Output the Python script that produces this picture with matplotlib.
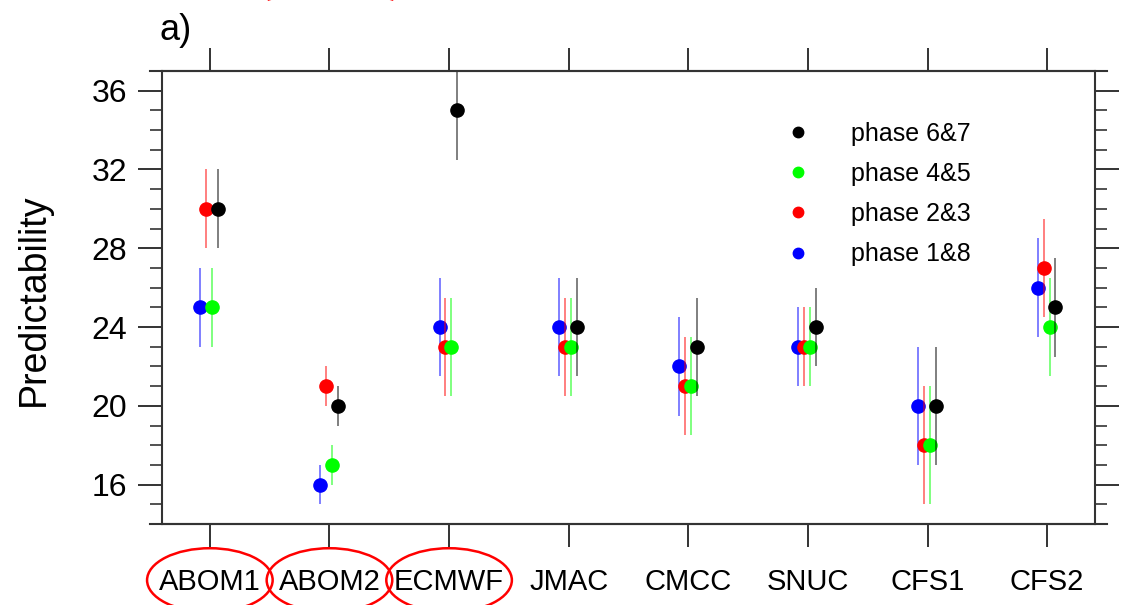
import matplotlib
matplotlib.use("Agg")
import matplotlib.pyplot as plt
import matplotlib.transforms as mtransforms
from matplotlib.patches import Ellipse, Arc
from matplotlib.ticker import MultipleLocator
from matplotlib.lines import Line2D

plt.rcParams['font.family'] = ['Liberation Sans', 'DejaVu Sans']

models = ['ABOM1', 'ABOM2', 'ECMWF', 'JMAC', 'CMCC', 'SNUC', 'CFS1', 'CFS2']

# predictability (days) and spread for each MJO phase group
p18 = [25, 16, 24, 24, 22, 23, 20, 26]
e18 = [2, 1, 2.5, 2.5, 2.5, 2, 3, 2.5]
p23 = [30, 21, 23, 23, 21, 23, 18, 27]
e23 = [2, 1, 2.5, 2.5, 2.5, 2, 3, 2.5]
p45 = [25, 17, 23, 23, 21, 23, 18, 24]
e45 = [2, 1, 2.5, 2.5, 2.5, 2, 3, 2.5]
p67 = [30, 20, 35, 24, 23, 24, 20, 25]
e67 = [2, 1, 2.5, 2.5, 2.5, 2, 3, 2.5]

series = [
    ('phase 1&8', p18, e18, '#0000ff', -0.08),
    ('phase 2&3', p23, e23, '#ff0000', -0.03),
    ('phase 4&5', p45, e45, '#00ff00', 0.02),
    ('phase 6&7', p67, e67, '#000000', 0.07),
]

fig = plt.figure(figsize=(11.22, 6.05), dpi=100)
ax = fig.add_axes([0.1444, 0.1339, 0.8315, 0.7487])

x = list(range(len(models)))
colors = {}
for label, vals, errs, col, off in series:
    xs = [i + off for i in x]
    ax.errorbar(xs, vals, yerr=errs, fmt='none', ecolor=col, elinewidth=1.4,
                alpha=0.5, capsize=0)
    ax.plot(xs, vals, 'o', color=col, markersize=9.5, linestyle='none')
    colors[label] = col

order = ['phase 6&7', 'phase 4&5', 'phase 2&3', 'phase 1&8']
leg_h = [Line2D([], [], marker='o', color=colors[l], linestyle='none',
                markersize=7.5) for l in order]
ax.legend(leg_h, order, loc='upper left', bbox_to_anchor=(0.631, 0.938),
          frameon=False, fontsize=18, handlelength=2.0, handletextpad=1.12,
          labelspacing=0.65)

ax.set_xlim(-0.4, 7.4)
ax.set_ylim(14, 37)
ax.set_xticks(x)
ax.set_xticklabels(models, fontsize=21)
ax.yaxis.set_minor_locator(MultipleLocator(1))
ax.set_yticks([16, 20, 24, 28, 32, 36])
ax.tick_params(axis='y', which='major', labelsize=23, length=17, width=1.4,
               direction='out', left=True, right=True, pad=8, color='#333333')
ax.tick_params(axis='y', which='minor', length=8.5, width=1.2, direction='out',
               left=True, right=True, color='#333333')
ax.tick_params(axis='x', which='major', length=16.5, width=1.4, direction='out',
               top=True, bottom=True, pad=15, color='#333333')
for s in ax.spines.values():
    s.set_linewidth(1.5)
    s.set_color('#333333')

# horizontal frame lines run a little past the box
for yy in (0, 1):
    ax.add_line(Line2D([-0.013, 1.013], [yy, yy], transform=ax.transAxes,
                       color='#333333', linewidth=1.5, clip_on=False))

ax.set_ylabel('Predictability', fontsize=27)
ax.yaxis.set_label_coords(-0.118, 0.494)

fig.text(0.142, 0.95, 'a)', fontsize=26, ha='left', va='center')

# red ellipses around the first three model labels
trans = mtransforms.blended_transform_factory(ax.transData, ax.transAxes)
for i in range(3):
    ax.add_patch(Ellipse((i, -0.124), 1.05, 0.141, transform=trans, fill=False,
                         edgecolor='red', linewidth=1.8, clip_on=False))

# red bracket tails cut off at the top edge
pt = fig.dpi_scale_trans
fig.patches.append(Arc((2.81, 6.35), 0.30, 0.90, theta1=205, theta2=250,
                       transform=pt, edgecolor='red', linewidth=3, figure=fig))
fig.patches.append(Arc((3.80, 6.35), 0.30, 0.90, theta1=290, theta2=335,
                       transform=pt, edgecolor='red', linewidth=3, figure=fig))

fig.savefig('out.png', dpi=100)
